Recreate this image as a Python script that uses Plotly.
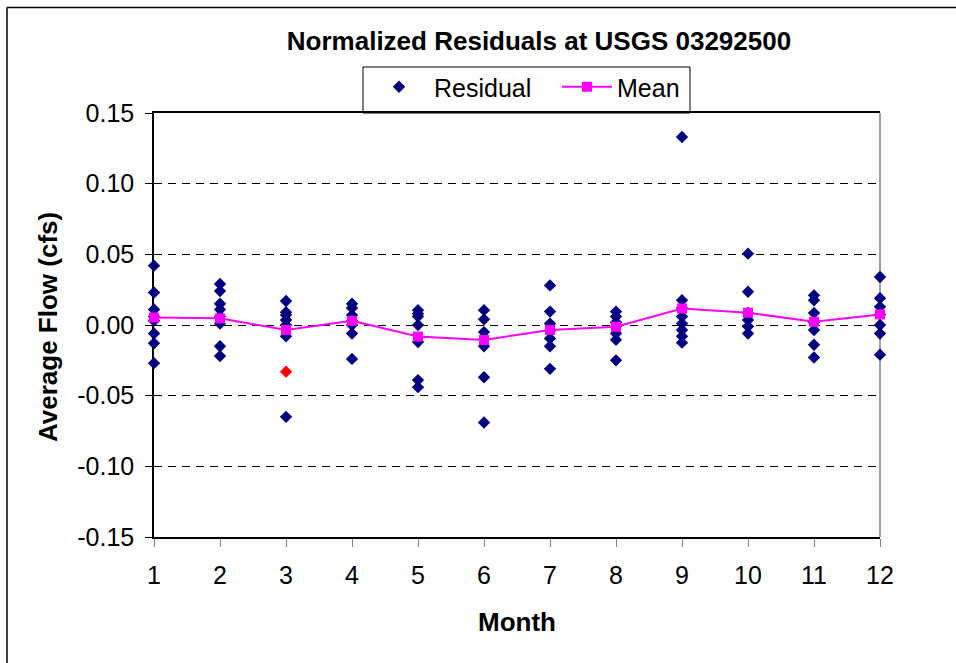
import plotly.graph_objects as go

# ---- data ----
months = [1, 2, 3, 4, 5, 6, 7, 8, 9, 10, 11, 12]

resid_month = (
    [1] * 8 + [2] * 8 + [3] * 7 + [4] * 7 + [5] * 7 + [6] * 7 +
    [7] * 7 + [8] * 7 + [9] * 8 + [10] * 6 + [11] * 7 + [12] * 7
)
resid_value = [
    0.042, 0.023, 0.011, 0.006, 0.003, -0.006, -0.013, -0.027,          # 1
    0.029, 0.024, 0.015, 0.011, 0.006, 0.001, -0.015, -0.022,           # 2
    0.017, 0.009, 0.007, 0.0035, 0.0, -0.008, -0.065,                   # 3
    0.015, 0.012, 0.007, 0.003, 0.0, -0.006, -0.024,                    # 4
    0.0105, 0.008, 0.006, 0.0, -0.012, -0.039, -0.044,                  # 5
    0.0105, 0.004, -0.005, -0.010, -0.015, -0.037, -0.069,              # 6
    0.028, 0.0095, 0.001, -0.004, -0.0095, -0.015, -0.031,              # 7
    0.0095, 0.006, 0.002, -0.001, -0.006, -0.0105, -0.025,              # 8
    0.133, 0.0175, 0.012, 0.006, 0.001, -0.0035, -0.008, -0.0125,       # 9
    0.0505, 0.0235, 0.0085, 0.0035, -0.001, -0.006,                     # 10
    0.021, 0.0175, 0.0085, 0.002, -0.0035, -0.014, -0.023,              # 11
    0.034, 0.019, 0.013, 0.0075, 0.0, -0.006, -0.021,                   # 12
]

flag_month = [3]
flag_value = [-0.033]

mean_value = [0.0053, 0.0047, -0.0035, 0.003, -0.0082, -0.0106,
              -0.0035, -0.0012, 0.0117, 0.0087, 0.0023, 0.0075]

y_tick_vals = [-0.15, -0.10, -0.05, 0.00, 0.05, 0.10, 0.15]
y_tick_text = ["-0.15", "-0.10", "-0.05", "0.00", "0.05", "0.10", "0.15"]

title_text = "Normalized Residuals at USGS 03292500"
x_title = "Month"
y_title = "Average Flow (cfs)"

# ---- figure ----
W, H = 956, 663
L, R, T, B = 154, 76, 113, 126
pw, ph = W - L - R, H - T - B


def px_x(px):
    return (px - L) / pw


def px_y(py):
    return (H - B - py) / ph


FONT = "Liberation Sans, Arial, sans-serif"
NAVY = "#000080"
MAG = "#FF00FF"

fig = go.Figure()

fig.add_trace(go.Scatter(
    x=resid_month, y=resid_value, mode="markers", name="Residual",
    legend="legend",
    marker=dict(symbol="diamond", size=9.5, color=NAVY, line=dict(width=0)),
    cliponaxis=False,
))
fig.add_trace(go.Scatter(
    x=flag_month, y=flag_value, mode="markers", name="Flagged",
    showlegend=False,
    marker=dict(symbol="diamond", size=9.5, color="#FF0000", line=dict(width=0)),
    cliponaxis=False,
))
fig.add_trace(go.Scatter(
    x=months, y=mean_value, mode="lines+markers", name="Mean",
    legend="legend2",
    line=dict(color=MAG, width=2),
    marker=dict(symbol="square", size=10, color=MAG, line=dict(width=0)),
    cliponaxis=False,
))

leg_common = dict(orientation="h", xanchor="left", yanchor="top",
                  bgcolor="rgba(0,0,0,0)", borderwidth=0,
                  font=dict(size=25, family=FONT))

fig.update_layout(
    width=W, height=H,
    margin=dict(l=L, r=R, t=T, b=B, pad=0),
    paper_bgcolor="white", plot_bgcolor="white",
    font=dict(family=FONT, size=25, color="black"),
    title=dict(text="<b>" + title_text + "</b>", font=dict(size=26, family=FONT),
               xref="paper", x=px_x(539), xanchor="center",
               yref="container", y=1 - 41 / H, yanchor="middle"),
    showlegend=True,
    legend=dict(x=px_x(364), y=px_y(64), itemwidth=60, **leg_common),
    legend2=dict(x=px_x(557), y=px_y(64), itemwidth=50, **leg_common),
    xaxis=dict(range=[1, 12], tickvals=months, showgrid=False, zeroline=False,
               showline=True, linecolor="black", linewidth=1.5, mirror=True,
               ticks="outside", ticklen=8, tickcolor="#808080", tickwidth=1,
               tickfont=dict(size=25), layer="below traces",
               ticklabelstandoff=7),
    yaxis=dict(range=[-0.15, 0.15], tickvals=y_tick_vals, ticktext=y_tick_text,
               showgrid=True, gridcolor="black", gridwidth=1, griddash="8px,6px",
               zeroline=False, showline=True, linecolor="black", linewidth=1.5,
               ticks="outside", ticklen=7, tickcolor="black", tickwidth=1,
               tickfont=dict(size=25), layer="below traces",
               ticklabelstandoff=6),
)

# axis titles
fig.add_annotation(text="<b>" + x_title + "</b>", xref="paper", yref="paper",
                   x=px_x(517), y=px_y(622), showarrow=False,
                   xanchor="center", yanchor="middle", font=dict(size=26))
fig.add_annotation(text="<b>" + y_title + "</b>", xref="paper", yref="paper",
                   x=px_x(48), y=px_y(327), showarrow=False, textangle=-90,
                   xanchor="center", yanchor="middle", font=dict(size=26))

# legend box
fig.add_shape(type="rect", xref="paper", yref="paper",
              x0=px_x(363), x1=px_x(690), y0=px_y(113), y1=px_y(67),
              line=dict(color="black", width=1), fillcolor="white", layer="below")
# gray right border of plot area
fig.add_shape(type="line", xref="paper", yref="paper", x0=1, x1=1, y0=0, y1=1,
              line=dict(color="#808080", width=1.5), layer="below")
# outer chart frame (left and top)
fig.add_shape(type="line", xref="paper", yref="paper",
              x0=px_x(7), x1=px_x(7), y0=px_y(700), y1=px_y(7.5),
              line=dict(color="black", width=1.5))
fig.add_shape(type="line", xref="paper", yref="paper",
              x0=px_x(7), x1=px_x(1000), y0=px_y(7.5), y1=px_y(7.5),
              line=dict(color="black", width=1.5))

fig.write_html(
    "out.html",
    config={"displayModeBar": False},
    post_script="document.body.style.margin='0';document.body.style.overflow='hidden';",
)
